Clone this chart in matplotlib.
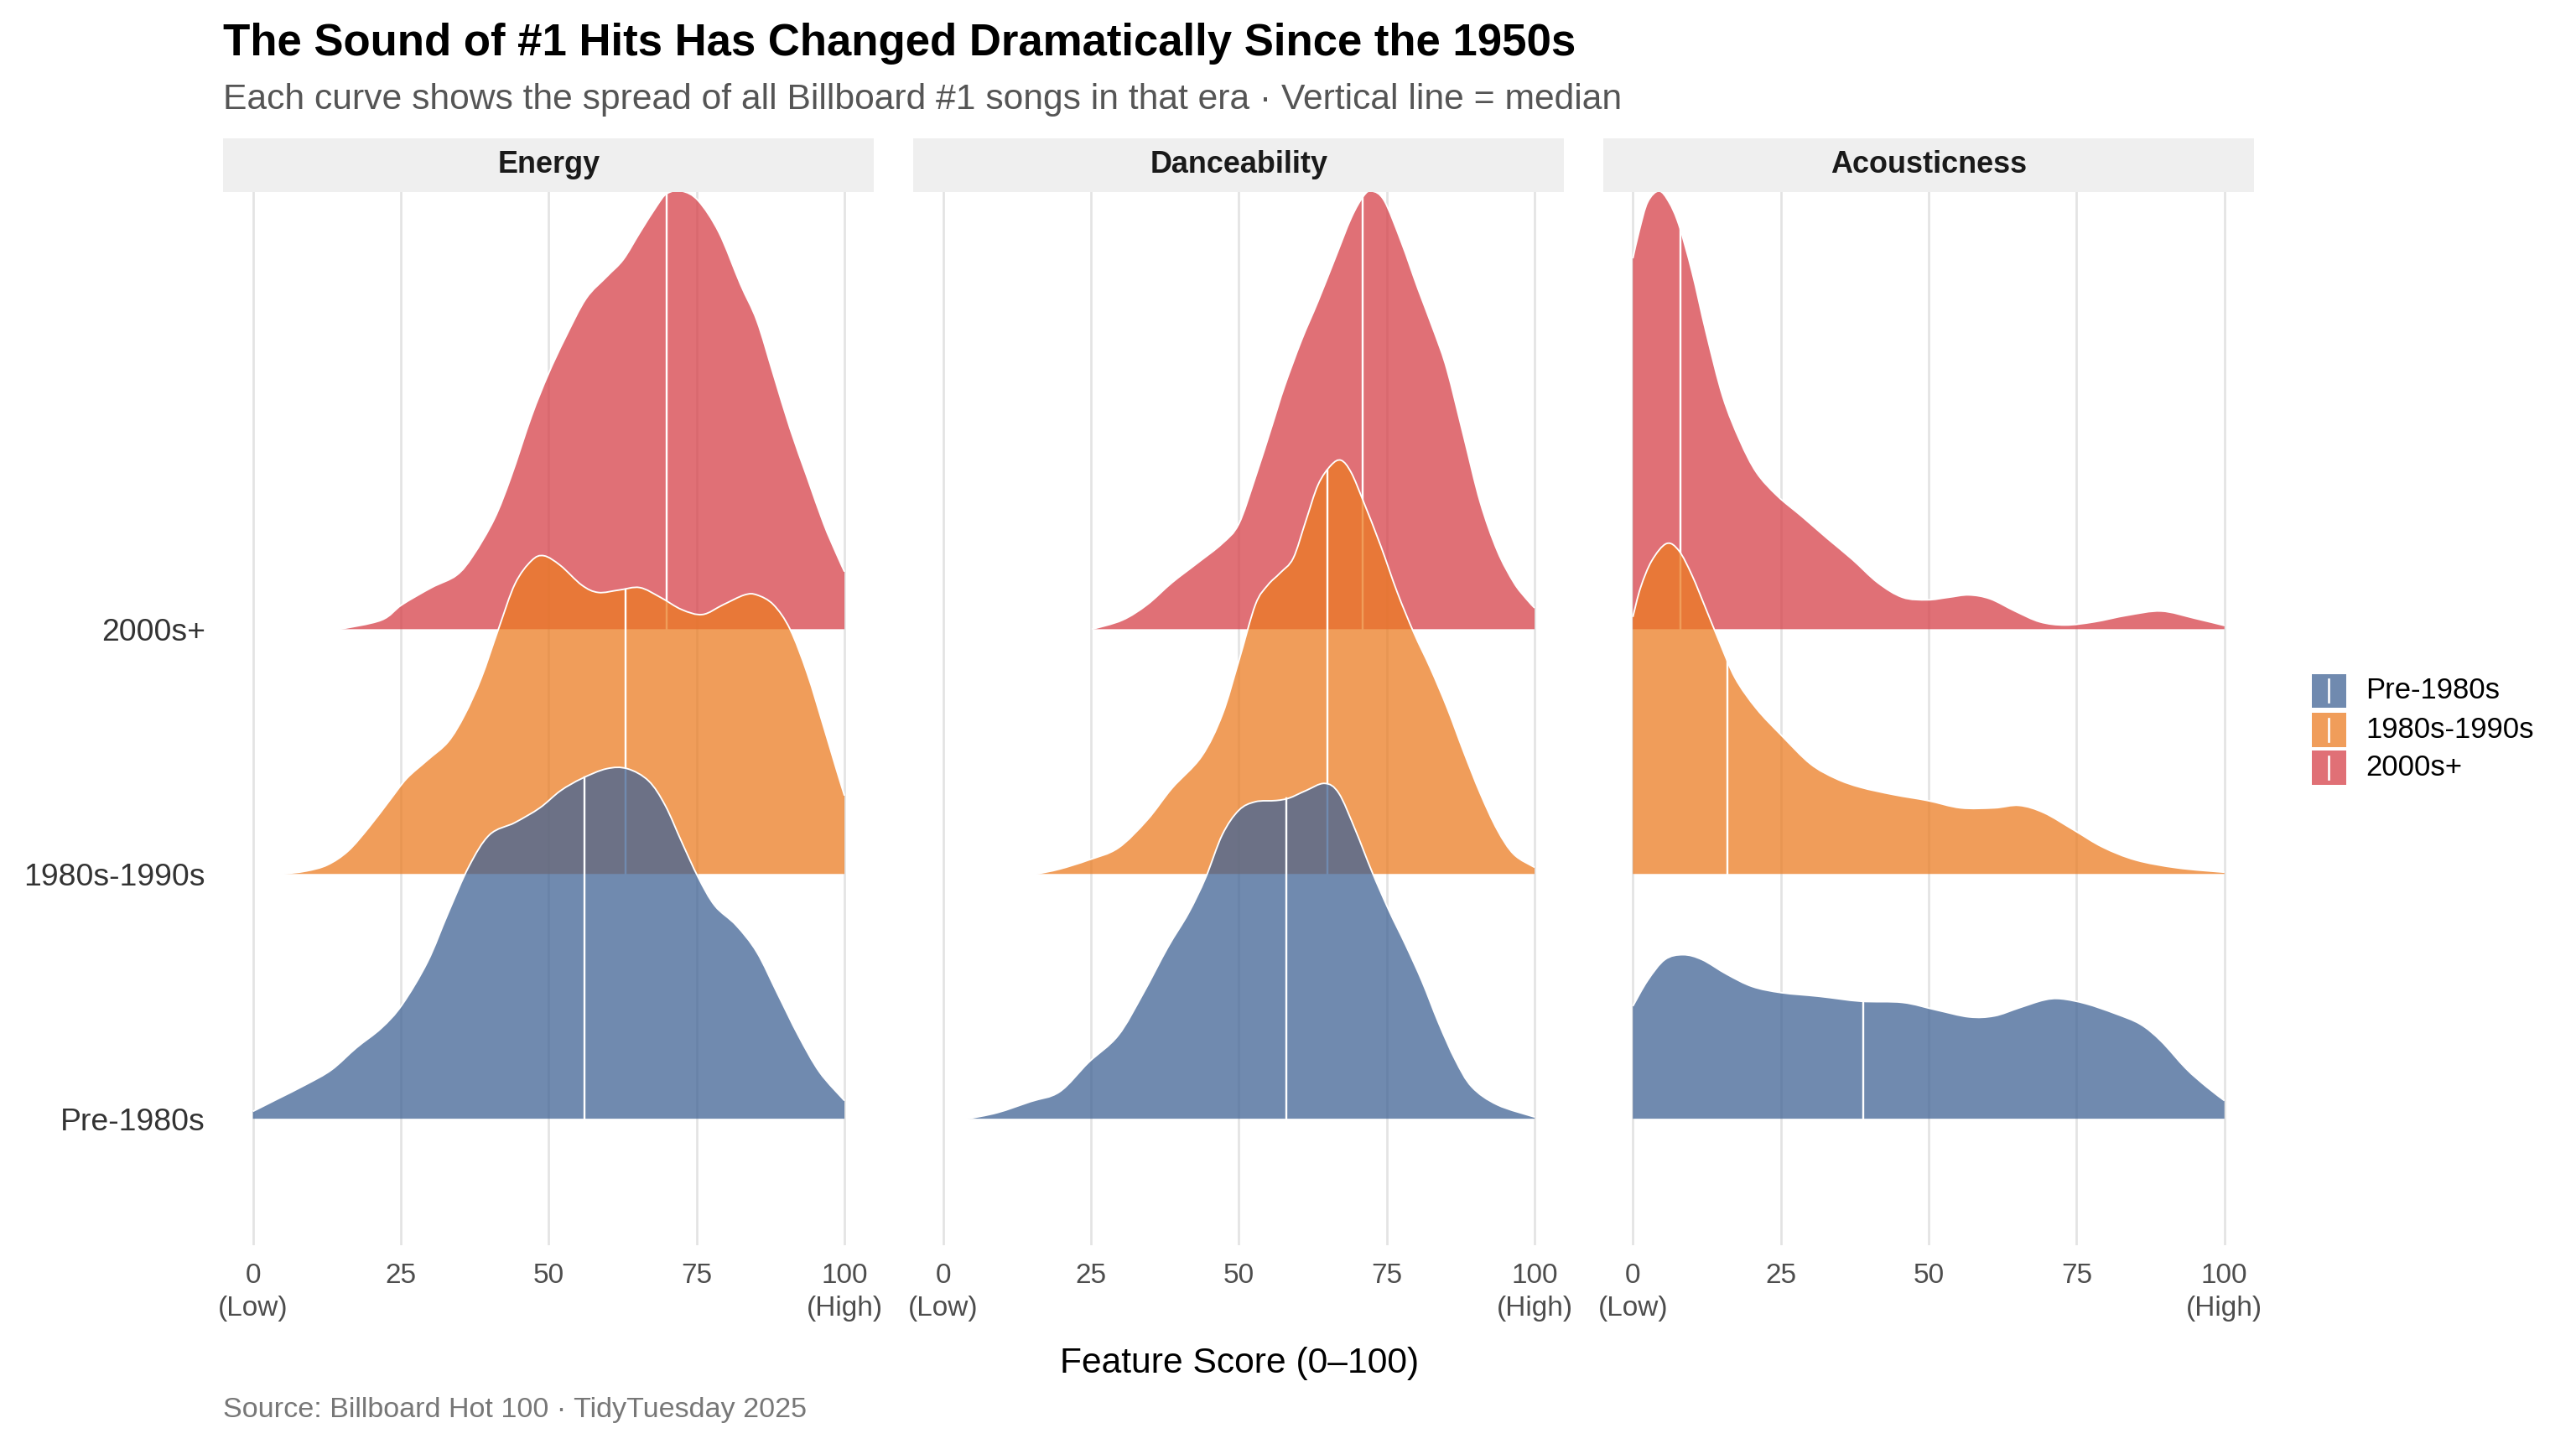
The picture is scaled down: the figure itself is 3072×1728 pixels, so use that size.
import numpy as np
import matplotlib.pyplot as plt
from matplotlib.patches import Rectangle, PathPatch
from matplotlib.path import Path
from matplotlib.lines import Line2D

plt.rcParams['font.family'] = ['Liberation Sans', 'DejaVu Sans']

features = ['Energy', 'Danceability', 'Acousticness']
eras = ['Pre-1980s', '1980s-1990s', '2000s+']
era_colors = ['#406395', '#EB7C23', '#D64048']

# density curves (x = feature score, h = ridge height)
energy_pre_x = [0, 4.1, 9, 13.3, 17.5, 21.7, 25.2, 29.5, 33, 36.5, 40, 44.3, 48.5, 52, 55.6, 59.8, 63.3,
                66.9, 69.7, 72.5, 75.3, 78.1, 81.7, 85.2, 88.7, 92.2, 95.8, 100]
energy_pre_h = [0.03, 0.08, 0.14, 0.20, 0.29, 0.37, 0.465, 0.64, 0.84, 1.03, 1.16, 1.21, 1.27, 1.34, 1.39, 1.43, 1.43,
                1.38, 1.28, 1.13, 0.985, 0.87, 0.79, 0.68, 0.51, 0.34, 0.19, 0.074]
energy_mid_x = [5.1, 9, 12.6, 16.1, 19.6, 23.1, 26, 29.5, 33, 35.8, 38.6, 41.5, 44.3, 47.1, 49.2, 52, 55.6, 58.4,
                61.9, 65.4, 68.9, 72.5, 76, 79.5, 83.1, 85.2, 88, 90.8, 93.7, 96.5, 98.6, 100]
energy_mid_h = [0, 0.012, 0.037, 0.094, 0.19, 0.30, 0.39, 0.465, 0.54, 0.65, 0.80, 1.0, 1.185, 1.28, 1.30, 1.26, 1.18, 1.15,
                1.16, 1.17, 1.13, 1.08, 1.06, 1.10, 1.14, 1.14, 1.10, 1.0, 0.82, 0.60, 0.43, 0.32]
energy_new_x = [14.7, 21.7, 25.2, 30.2, 34.4, 37.2, 40.8, 43.6, 47.1, 49.9, 52.8, 56.3, 59.8, 62.6, 65.4, 68.3, 70,
                72.5, 75.3, 78.8, 82.4, 85.2, 88, 90.8, 93.7, 96.5, 98.6, 100]
energy_new_h = [0, 0.037, 0.10, 0.17, 0.22, 0.30, 0.45, 0.62, 0.87, 1.04, 1.19, 1.35, 1.44, 1.51, 1.62, 1.73, 1.78,
                1.79, 1.75, 1.62, 1.41, 1.26, 1.04, 0.82, 0.62, 0.43, 0.31, 0.235]

dance_pre_x = [4.2, 9.2, 14.8, 19.7, 24.6, 29.6, 33.8, 38, 41.5, 44.4, 47.2, 50, 52.8, 56.3, 58.5, 61.3, 64.5,
               66.9, 69.7, 72.5, 75.4, 78.2, 81, 83.8, 86.6, 89.4, 93.7, 100]
dance_pre_h = [0, 0.025, 0.07, 0.11, 0.23, 0.34, 0.51, 0.70, 0.84, 0.985, 1.16, 1.26, 1.295, 1.30, 1.31, 1.34, 1.37,
               1.33, 1.18, 1.01, 0.85, 0.71, 0.56, 0.39, 0.24, 0.13, 0.057, 0.007]
dance_mid_x = [15.8, 19.7, 24.6, 29.6, 34.5, 38.7, 43.7, 47.2, 50, 52.8, 54.9, 57, 59.2, 61.3, 63.4, 65.6, 67.3,
               69, 71.1, 74, 76.8, 79.6, 82.4, 85.2, 88, 90.8, 93.7, 96.5, 100]
dance_mid_h = [0, 0.02, 0.057, 0.106, 0.22, 0.35, 0.48, 0.65, 0.87, 1.10, 1.18, 1.23, 1.29, 1.44, 1.59, 1.67, 1.69,
               1.64, 1.52, 1.34, 1.15, 0.985, 0.84, 0.68, 0.50, 0.33, 0.18, 0.08, 0.027]
dance_new_x = [25.2, 30.3, 34.5, 38.7, 43, 47.2, 50, 52.8, 55.6, 57.7, 60.6, 63.4, 66.2, 69, 71.1, 72.5, 74.6,
               77.5, 80.3, 83.1, 85.2, 88, 90.8, 93.7, 96.5, 98.6, 100]
dance_new_h = [0, 0.037, 0.10, 0.19, 0.27, 0.35, 0.43, 0.62, 0.83, 0.99, 1.18, 1.34, 1.51, 1.68, 1.77, 1.79, 1.75,
               1.58, 1.39, 1.21, 1.06, 0.79, 0.52, 0.32, 0.19, 0.124, 0.087]

acoustic_pre_x = [0, 2.5, 5.4, 8.5, 11.7, 15.9, 20.2, 25.1, 31.5, 38.5, 45.6, 51.2, 56.8, 61.1, 65.3, 69.5,
                  72.4, 76.6, 81.5, 85.8, 89.3, 93.5, 97, 100]
acoustic_pre_h = [0.46, 0.565, 0.65, 0.67, 0.65, 0.59, 0.54, 0.515, 0.50, 0.48, 0.475, 0.445, 0.416, 0.42, 0.453, 0.485,
                  0.49, 0.47, 0.43, 0.386, 0.317, 0.205, 0.13, 0.074]
acoustic_mid_x = [0, 1.3, 3.2, 5.7, 7.8, 10, 12.4, 14.6, 17.3, 20.9, 25.2, 30, 34.3, 38.5, 44.1, 49.8, 55.4,
                  61.1, 65.3, 69.5, 74.5, 79.4, 85, 92, 100]
acoustic_mid_h = [1.05, 1.17, 1.28, 1.35, 1.32, 1.22, 1.08, 0.95, 0.80, 0.675, 0.564, 0.45, 0.39, 0.354, 0.324, 0.30, 0.27,
                  0.27, 0.28, 0.25, 0.18, 0.11, 0.057, 0.025, 0.007]
acoustic_new_x = [0, 1.1, 2.5, 4.4, 6.1, 7.8, 10, 12.4, 15.2, 18.1, 20.9, 24.4, 28.6, 32.9, 37.1, 41.4, 45.6,
                  49.8, 53.3, 56.8, 60.4, 64.6, 68.8, 73.1, 78, 83.6, 89.3, 94.9, 100]
acoustic_new_h = [1.515, 1.63, 1.745, 1.79, 1.745, 1.65, 1.46, 1.21, 0.95, 0.77, 0.64, 0.545, 0.46, 0.37, 0.285, 0.19, 0.13,
                  0.12, 0.13, 0.14, 0.124, 0.074, 0.03, 0.017, 0.03, 0.057, 0.074, 0.045, 0.015]

energy_medians = [56, 63, 70]
dance_medians = [58, 65, 71]
acoustic_medians = [39, 16, 8]

curves = {
    'Energy': [(energy_pre_x, energy_pre_h), (energy_mid_x, energy_mid_h), (energy_new_x, energy_new_h)],
    'Danceability': [(dance_pre_x, dance_pre_h), (dance_mid_x, dance_mid_h), (dance_new_x, dance_new_h)],
    'Acousticness': [(acoustic_pre_x, acoustic_pre_h), (acoustic_mid_x, acoustic_mid_h), (acoustic_new_x, acoustic_new_h)],
}
medians = {'Energy': energy_medians, 'Danceability': dance_medians, 'Acousticness': acoustic_medians}


def curve_segments(xs, ys):
    # smooth bezier pieces through the read points (catmull-rom style)
    pts = np.column_stack([xs, ys])
    n = len(pts)
    verts, codes = [], []
    for i in range(n - 1):
        p0 = pts[max(i - 1, 0)]
        p1 = pts[i]
        p2 = pts[i + 1]
        p3 = pts[min(i + 2, n - 1)]
        c1 = p1 + (p2 - p0) / 6.0
        c2 = p2 - (p3 - p1) / 6.0
        verts += [c1, c2, p2]
        codes += [Path.CURVE4] * 3
    return verts, codes


fig = plt.figure(figsize=(16, 9), dpi=192)
lefts = [0.0867, 0.3546, 0.6224]
width = 0.2526
bottom, top = 0.1406, 0.8673

for i, feat in enumerate(features):
    ax = fig.add_axes([lefts[i], bottom, width, top - bottom])
    ax.set_xlim(-5, 105)
    ax.set_ylim(0.483, 4.785)
    for v in [0, 25, 50, 75, 100]:
        ax.axvline(v, color='#E3E3E3', lw=1.0, zorder=0)
    for s in ax.spines.values():
        s.set_visible(False)

    # top ridge first so the lower ones sit on top
    for k in [2, 1, 0]:
        xs, hs = curves[feat][k]
        xs = np.array(xs, dtype=float)
        base = k + 1
        top_y = base + np.array(hs)
        z = 3 - k
        cv, cc = curve_segments(xs, top_y)
        verts = [(xs[0], base), (xs[0], top_y[0])] + cv + [(xs[-1], base), (xs[0], base)]
        codes = [Path.MOVETO, Path.LINETO] + cc + [Path.LINETO, Path.CLOSEPOLY]
        ax.add_patch(PathPatch(Path(verts, codes), facecolor=era_colors[k], alpha=0.75,
                               edgecolor='none', zorder=z))
        line_path = Path([(xs[0], top_y[0])] + cv, [Path.MOVETO] + cc)
        ax.add_patch(PathPatch(line_path, facecolor='none', edgecolor='white', lw=0.7, zorder=z))
        m = medians[feat][k]
        ax.plot([m, m], [base, base + np.interp(m, xs, hs)], color='white', lw=0.9, zorder=z)

    ax.set_xticks([0, 25, 50, 75, 100])
    ax.set_xticklabels(['0\n(Low)', '25', '50', '75', '100\n(High)'], va='top', linespacing=1.3)
    ax.tick_params(axis='x', length=0, labelsize=12.5, colors='#4D4D4D', pad=8)
    ax.set_yticks([1, 2, 3])
    if i == 0:
        ax.set_yticklabels(eras)
        ax.tick_params(axis='y', length=0, labelsize=14, colors='#333333', pad=8)
    else:
        ax.set_yticklabels([])
        ax.tick_params(axis='y', length=0)

    fig.add_artist(Rectangle((lefts[i], top), width, 0.0375, transform=fig.transFigure,
                             facecolor='#EFEFEF', edgecolor='none'))
    fig.text(lefts[i] + width / 2, top + 0.0188, feat, ha='center', va='center',
             fontsize=13.5, fontweight='bold', color='#1A1A1A')

fig.text(0.0867, 0.970, 'The Sound of #1 Hits Has Changed Dramatically Since the 1950s',
         fontsize=19.8, fontweight='bold', va='center', ha='left')
fig.text(0.0867, 0.931, 'Each curve shows the spread of all Billboard #1 songs in that era \u00b7 Vertical line = median',
         fontsize=16, color='#555555', va='center', ha='left')
fig.text(0.481, 0.059, 'Feature Score (0\u2013100)', fontsize=16, ha='center', va='center')
fig.text(0.0867, 0.027, 'Source: Billboard Hot 100 \u00b7 TidyTuesday 2025', fontsize=12.8,
         color='#777777', ha='left', va='center')

# legend drawn by hand: filled key with a white median tick
key_x, key_w, key_h = 0.8973, 0.0134, 0.0235
key_tops = [0.535, 0.508, 0.482]
for c, label, ky in zip(era_colors, eras, key_tops):
    fig.add_artist(Rectangle((key_x, ky - key_h), key_w, key_h, transform=fig.transFigure,
                             facecolor=c, alpha=0.75, edgecolor='none'))
    fig.add_artist(Line2D([key_x + key_w / 2] * 2, [ky - key_h + 0.004, ky - 0.004],
                          transform=fig.transFigure, color='white', lw=1.0))
    fig.text(0.9184, ky - key_h / 2, label, fontsize=13, va='center', ha='left')

fig.savefig('out.png', dpi=192)
